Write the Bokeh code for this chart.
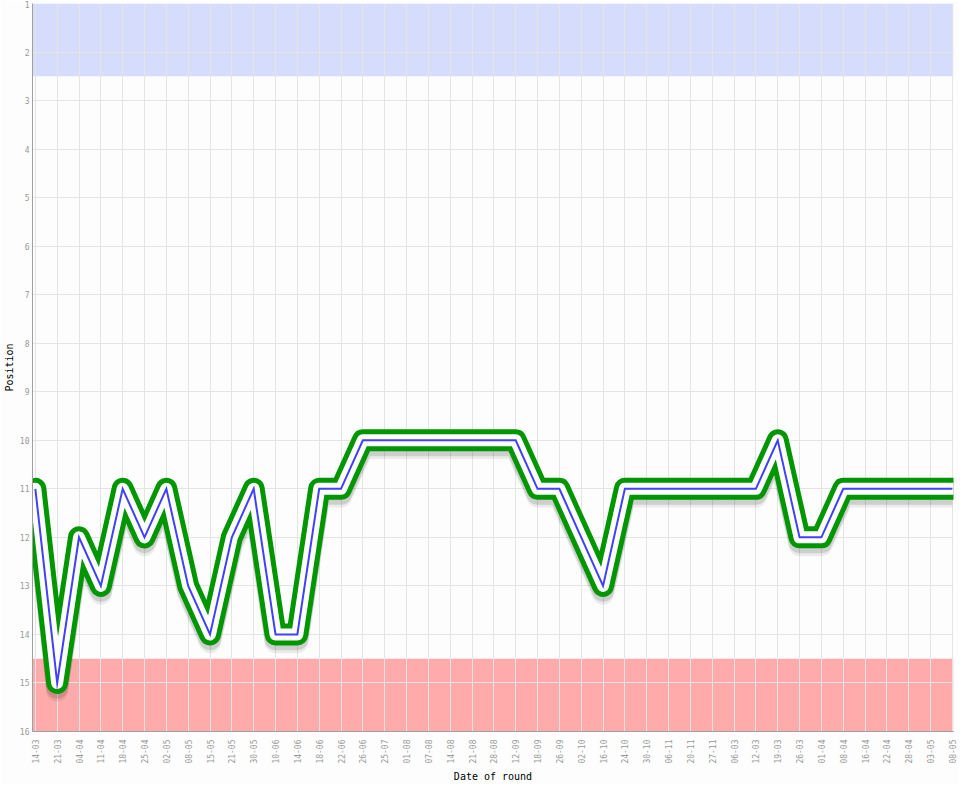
import math
from bokeh.plotting import figure
from bokeh.models import Range1d, FixedTicker, BoxAnnotation
from bokeh.embed import file_html
from bokeh.resources import INLINE

dates = ["14-03", "21-03", "04-04", "11-04", "18-04", "25-04", "02-05", "08-05",
         "15-05", "21-05", "30-05", "10-06", "14-06", "18-06", "22-06", "26-06",
         "25-07", "01-08", "07-08", "14-08", "21-08", "28-08", "12-09", "18-09",
         "26-09", "02-10", "16-10", "24-10", "30-10", "06-11", "20-11", "27-11",
         "06-03", "12-03", "19-03", "26-03", "01-04", "08-04", "16-04", "22-04",
         "28-04", "03-05", "08-05"]
positions = [11, 15, 12, 13, 11, 12, 11, 13, 14, 12, 11, 14, 14, 11, 11, 10,
             10, 10, 10, 10, 10, 10, 10, 11, 11, 12, 13, 11, 11, 11, 11, 11,
             11, 11, 10, 12, 12, 11, 11, 11, 11, 11, 11]
position_ticks = list(range(1, 17))
promotion_zone = [1, 2.5]
relegation_zone = [14.5, 16]

x = list(range(len(dates)))

BG = "#fcfdfc"
MONO = "DejaVu Sans Mono"

p = figure(width=959, height=784, output_backend="svg", toolbar_location=None,
           x_range=Range1d(-0.13, len(dates) - 1 + 0.05),
           y_range=Range1d(position_ticks[-1], position_ticks[0]),
           min_border_top=3, min_border_left=20, min_border_right=6,
           min_border_bottom=50,
           background_fill_color=BG, border_fill_color=BG)
p.outline_line_color = None

p.add_layout(BoxAnnotation(top=promotion_zone[0], bottom=promotion_zone[1],
                           fill_color="#d6dcfc", fill_alpha=1.0,
                           line_color=None, level="image"))
p.add_layout(BoxAnnotation(top=relegation_zone[0], bottom=relegation_zone[1],
                           fill_color="#ffabab", fill_alpha=1.0,
                           line_color=None, level="image"))

p.xaxis.ticker = FixedTicker(ticks=x)
p.xaxis.major_label_overrides = {i: d for i, d in enumerate(dates)}
p.xaxis.major_label_orientation = math.pi / 2
p.yaxis.ticker = FixedTicker(ticks=position_ticks)

for ax in (p.xaxis, p.yaxis):
    ax.axis_line_color = "#a0a0a0"
    ax.axis_line_width = 1
    ax.major_tick_line_color = None
    ax.minor_tick_line_color = None
    ax.major_tick_out = 0
    ax.major_tick_in = 0
    ax.major_label_text_font = MONO
    ax.major_label_text_font_size = "8px"
    ax.major_label_text_color = "#999999"
    ax.major_label_standoff = 3
    ax.axis_label_text_font = MONO
    ax.axis_label_text_font_size = "10px"
    ax.axis_label_text_font_style = "normal"
    ax.axis_label_text_color = "#000000"
    ax.axis_label_standoff = 2

p.xaxis.major_label_standoff = 8
p.xaxis.axis_label_standoff = 4
p.xaxis.axis_label = "Date of round"
p.yaxis.axis_label = "Position"

p.xgrid.grid_line_color = "#e4e4e4"
p.ygrid.grid_line_color = "#e4e4e4"

# soft shadow under the line
p.line(x, [v + 0.16 for v in positions], line_width=22, color="#000000",
       alpha=0.07, line_join="round")
p.line(x, [v + 0.1 for v in positions], line_width=22, color="#000000",
       alpha=0.12, line_join="round")

p.line(x, positions, line_width=22, color="#009600", line_join="round",
       line_cap="round")
p.line(x, positions, line_width=12, color="#ffffff", line_join="round",
       line_cap="round")
p.line(x, positions, line_width=2, color="#4040ff", line_join="miter")

open("out.html", "w").write(file_html(p, INLINE))
